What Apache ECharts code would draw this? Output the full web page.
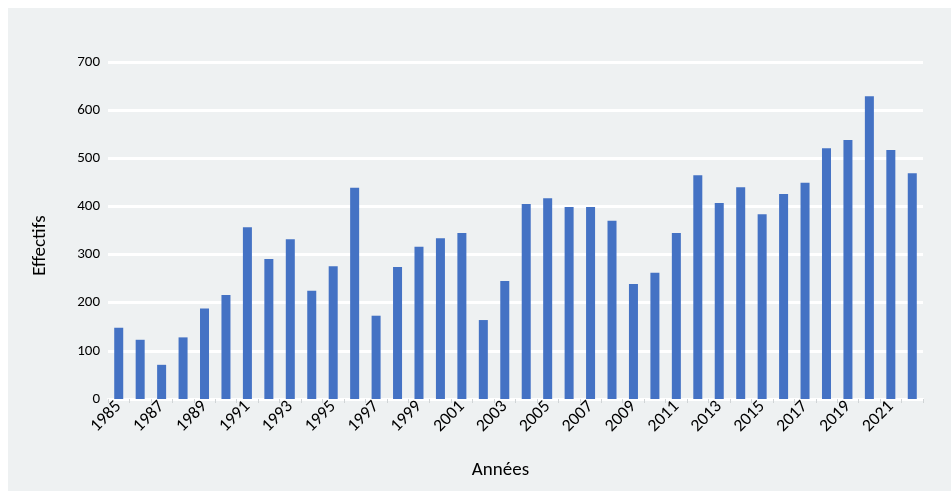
<!DOCTYPE html>
<html lang="fr">
<head>
    <meta charset="utf-8"/>
    <title>Effectifs par année</title>
    <script src="https://cdn.jsdelivr.net/npm/echarts@6/dist/echarts.min.js"></script>
    <style>
        html, body { margin: 0; padding: 0; background: #ffffff; }
        #main {
            position: absolute;
            left: 8px; top: 8px;
            width: 943px; height: 483px;
            background: #eef1f2;
        }
    </style>
</head>
<body>
<div id="main"></div>
<script>
    var years = [];
    for (var y = 1985; y <= 2022; y++) years.push(String(y));

    var effectifs = [148, 123, 71, 128, 188, 216, 357, 291, 332, 225,
        276, 439, 173, 274, 316, 334, 345, 164, 245, 405,
        417, 399, 399, 370, 239, 262, 345, 465, 407, 440,
        384, 426, 449, 521, 538, 629, 517, 469];

    var yTicks = {min: 0, max: 700, interval: 100};

    var chart = echarts.init(document.getElementById('main'));
    var font = 'Carlito, "Open Sans", "Noto Sans", sans-serif';
    chart.setOption({
        animation: false,
        grid: {left: 100, right: 28, top: 54, bottom: 92},
        xAxis: {
            type: 'category',
            data: years,
            name: 'Années',
            nameLocation: 'middle',
            nameGap: 62,
            nameTextStyle: {fontSize: 19, color: '#000', fontFamily: font, padding: [0, 30, 0, 0]},
            axisLine: {lineStyle: {color: '#ffffff', width: 2}},
            axisTick: {show: true, interval: 0, lineStyle: {color: '#d0d4d6'}, length: 4},
            axisLabel: {
                interval: 1,
                rotate: 45,
                fontSize: 17.5,
                color: '#000',
                fontFamily: font,
                margin: 5
            }
        },
        yAxis: {
            type: 'value',
            min: yTicks.min,
            max: yTicks.max,
            interval: yTicks.interval,
            name: 'Effectifs',
            nameLocation: 'middle',
            nameGap: 58,
            nameTextStyle: {fontSize: 19, color: '#000', fontFamily: font, padding: [0, 30, 0, 0]},
            axisLine: {show: false},
            axisTick: {show: false},
            axisLabel: {fontSize: 15, color: '#000', fontFamily: font, margin: 8},
            splitLine: {lineStyle: {color: '#ffffff', width: 3}}
        },
        series: [{
            type: 'bar',
            data: effectifs,
            barWidth: '42%',
            itemStyle: {color: '#4472c4'}
        }]
    });
</script>
</body>
</html>
